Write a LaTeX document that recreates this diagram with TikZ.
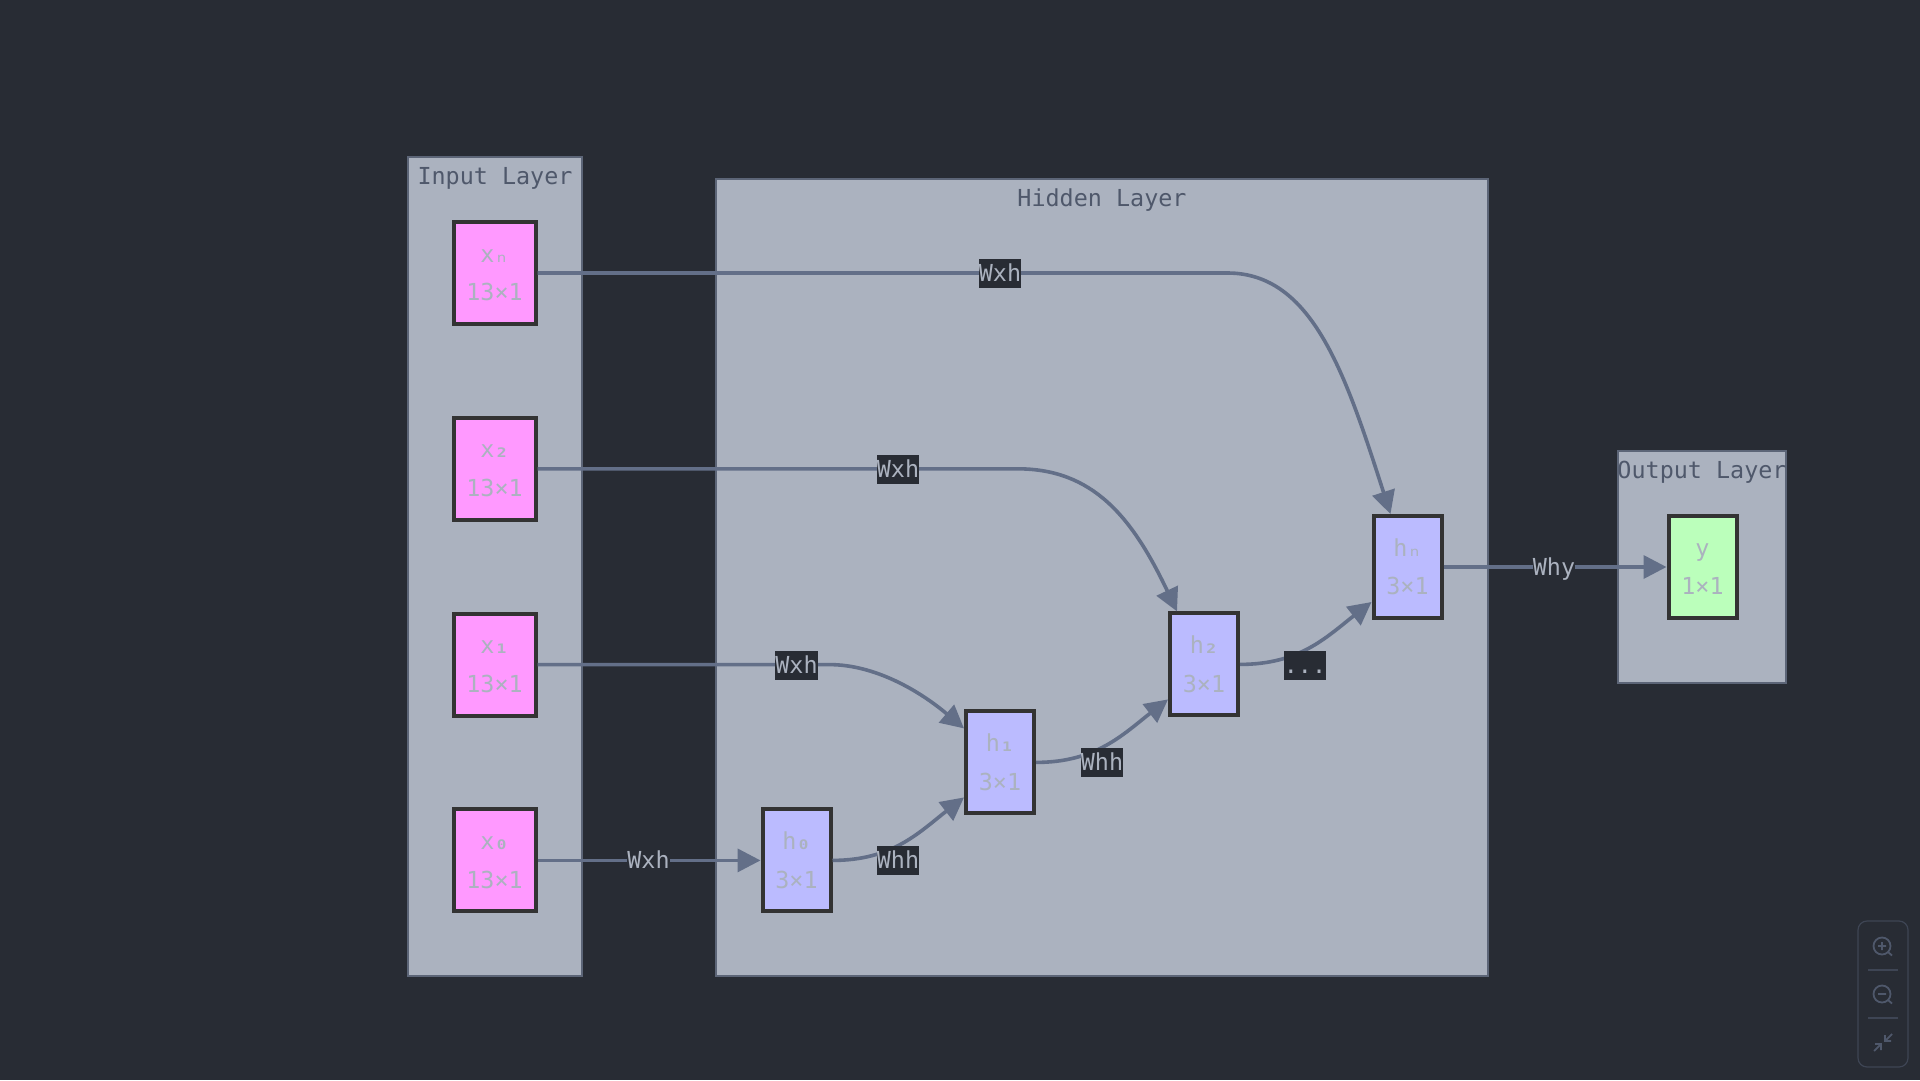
\documentclass[tikz,border=0pt]{standalone}
\usepackage{fontspec}
\setmonofont{DejaVu Sans Mono}
\usepackage{xcolor}
\usepackage{tikz}
\usetikzlibrary{arrows.meta,positioning}
\definecolor{pagebg}{HTML}{282C34}
\definecolor{layerbg}{HTML}{ABB2BF}
\definecolor{layerline}{HTML}{5C6577}
\definecolor{titlecol}{HTML}{4F586B}
\definecolor{edgecol}{HTML}{636F88}
\definecolor{boxline}{HTML}{333333}
\definecolor{toolline}{HTML}{3E4554}
\definecolor{inpfill}{HTML}{FF99FF}
\definecolor{hidfill}{HTML}{BBBBFF}
\definecolor{outfill}{HTML}{BBFFBB}

\begin{document}
\begin{tikzpicture}[
      x=1pt, y=-1pt,
      layer/.style={draw=layerline, fill=layerbg, line width=2pt},
      laytitle/.style={text=titlecol, inner sep=0pt,
                  font=\ttfamily\fontsize{23.4}{28}\selectfont},
      cell/.style={draw=boxline, line width=4pt, text=layerbg, inner sep=0pt,
                  minimum height=102pt, align=center, text height=63.4pt, text depth=8pt,
                  font=\ttfamily\fontsize{23.4}{38.7}\selectfont},
      inpcell/.style={cell, fill=inpfill, minimum width=82pt},
      hidcell/.style={cell, fill=hidfill, minimum width=68pt},
      outcell/.style={cell, fill=outfill, minimum width=68pt},
      arr/.style={-{Triangle[length=23pt,width=23pt]}, line width=3.6pt, color=edgecol},
      wlab/.style={fill=pagebg, text=layerbg, inner sep=0pt,
                  minimum width=42pt, minimum height=29pt, text height=21pt, text depth=5pt,
                  font=\ttfamily\fontsize{23.4}{28}\selectfont},
      tool/.style={draw=titlecol, line width=1.8pt}
  ]
    \fill[pagebg] (0,0) rectangle (1920,1080);
    \useasboundingbox (0,0) rectangle (1920,1080);

    % layers
    \node[layer, minimum width=174.4pt, minimum height=819.4pt] (inlayer) at (495,566.5) {};
    \node[layer, minimum width=771.4pt, minimum height=797.6pt] (hidlayer) at (1102,577.5) {};
    \node[layer, minimum width=167.4pt, minimum height=231.4pt] (outlayer) at (1702,567) {};
    \node[laytitle, below=11pt of inlayer.north] (intitle) {Input Layer};
    \node[laytitle, below=10.5pt of hidlayer.north] (hidtitle) {Hidden Layer};
    \node[laytitle, below=10.5pt of outlayer.north] (outtitle) {Output Layer};

    % cells
    \node[inpcell] (xn) at (494.5,273) {xₙ\\ 13×1};
    \node[inpcell, below=89.8pt of xn] (x2) {x\textbf{₂}\\ 13×1};
    \node[inpcell, below=89.8pt of x2] (x1) {x\textbf{₁}\\ 13×1};
    \node[inpcell, below=89.8pt of x1] (x0) {x\textbf{₀}\\ 13×1};
    \node[hidcell, right=223pt of x0] (h0) {h\textbf{₀}\\ 3×1};
    \node[hidcell, right=131.5pt of h0, yshift=98pt] (h1) {h\textbf{₁}\\ 3×1};
    \node[hidcell, right=132pt of h1, yshift=98pt] (h2) {h\textbf{₂}\\ 3×1};
    \node[hidcell, right=131.5pt of h2, yshift=97.4pt] (hn) {hₙ\\ 3×1};
    \node[outcell, right=223pt of hn] (y) {y\\ 1×1};

    % edges
    \draw[arr] (x0)--(h0);
    \draw[arr] (x1.east) -- ++(292,0) .. controls +(45,0) and +(-45,-38) .. ([yshift=34pt]h1.west);
    \draw[arr] (x2.east) -- ++(480,0) .. controls +(75,0) and +(-45,-95) .. ([xshift=-27pt]h2.north);
    \draw[arr] (xn.east) -- ++(690,0) .. controls +(85,0) and +(-45,-140) .. ([xshift=-17pt]hn.north);
    \draw[arr] (h0.east) .. controls +(60,0) and +(-45,35) .. ([yshift=-35pt]h1.west);
    \draw[arr] (h1.east) .. controls +(60,0) and +(-45,35) .. ([yshift=-35pt]h2.west);
    \draw[arr] (h2.east) .. controls +(60,0) and +(-45,35) .. ([yshift=-35pt]hn.west);
    \draw[arr] (hn)--(y);

    % edge labels
    \node[wlab] (wn) at (1000,273) {Wxh};
    \node[wlab] (w2) at (898,469) {Wxh};
    \node[wlab] (w1) at (796.5,665) {Wxh};
    \node[wlab] (w0) at (648.5,860.4) {Wxh};
    \node[wlab] (r0) at (898,860) {Whh};
    \node[wlab] (r1) at (1102,762) {Whh};
    \node[wlab] (r2) at (1305,665) {...};
    \node[wlab] (wy) at (1554,567) {Why};

    % zoom buttons
    \draw[draw=toolline, line width=1.2pt, rounded corners=9pt] (1858,921) rectangle (1908,1067);
    \draw[draw=toolline, line width=1.2pt] (1868,970) -- (1898,970) (1868,1018) -- (1898,1018);
    \draw[tool] (1882,946) circle (8.5);
    \draw[tool] (1888,952) -- (1892,955.5) (1878,946) -- (1886,946) (1882,942) -- (1882,950);
    \draw[tool] (1882,994) circle (8.5);
    \draw[tool] (1888,1000) -- (1892,1003.5) (1878,994) -- (1886,994);
    \draw[tool] (1874,1051) -- (1881,1044) (1875,1044) -- (1881,1044) -- (1881,1050);
    \draw[tool] (1892,1034) -- (1885,1041) (1885,1035) -- (1885,1041) -- (1891,1041);
\end{tikzpicture}
\end{document}
